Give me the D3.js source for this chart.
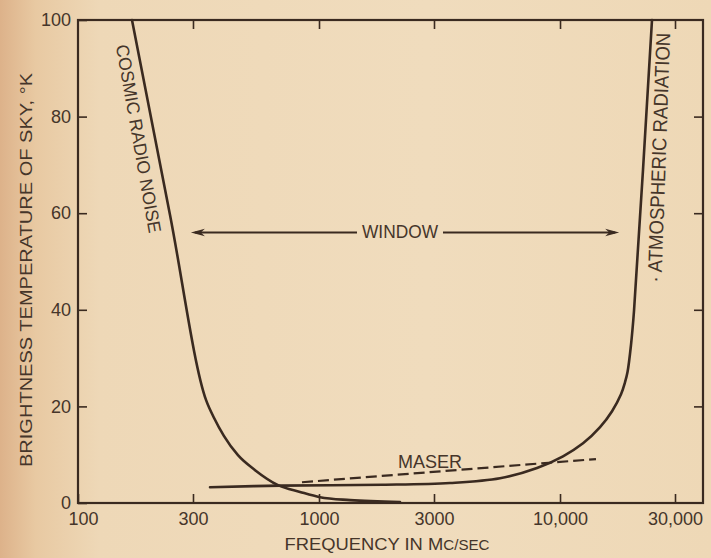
<!DOCTYPE html>
<html>
<head>
<meta charset="utf-8">
<script src="https://cdn.jsdelivr.net/npm/d3@7"></script>
<style>
  html, body { margin: 0; padding: 0; background: #eedabb; }
  svg { display: block; }
  text { font-family: "Liberation Sans", Arial, sans-serif; fill: #45352a; }
</style>
</head>
<body>
<svg id="chart" width="711" height="558"></svg>
<script>
// ---- data (frequency in Mc/sec, brightness temperature in °K) ----
const cosmicFreq = [167.5, 241, 340, 367, 403, 461, 543, 676, 834, 1010, 1345, 2168];
const cosmicTemp = [100, 59.6, 21.3, 17.6, 13.9, 9.9, 6.8, 3.7, 2.3, 1.2, 0.6, 0.2];

const atmFreq = [353, 689, 1844, 3497, 5637, 8028, 10290, 12460, 14660, 16440, 17910, 18610, 19060, 19700, 20280, 24080];
const atmTemp = [3.25, 3.6, 3.77, 4.14, 5.11, 7.25, 9.67, 12.35, 15.7, 19.0, 22.5, 25.0, 27.1, 32.7, 39.8, 100];

const maserFreq = [850, 14100];
const maserTemp = [4.3, 9.1];

const windowFreq = [294, 17600];
const windowTemp = 56;

const xTickValues = [100, 300, 1000, 3000, 10000, 30000];
const xTickLabels = ["100", "300", "1000", "3000", "10,000", "30,000"];
const yTickValues = [0, 20, 40, 60, 80, 100];
const yTickLabels = ["0", "20", "40", "60", "80", "100"];

(function draw() {
  const svg = d3.select("#chart");
  const W = 711, H = 558;
  const mL = 78, mR = 703, mT = 20, mB = 503;
  const ink = "#3a2a20";

  // paper background
  const defs = svg.append("defs");
  const grad = defs.append("linearGradient").attr("id", "paper").attr("x1", "0").attr("x2", "1").attr("y1", "0").attr("y2", "0");
  grad.append("stop").attr("offset", "0").attr("stop-color", "#ddb28a");
  grad.append("stop").attr("offset", "0.05").attr("stop-color", "#e8c9a2");
  grad.append("stop").attr("offset", "0.14").attr("stop-color", "#eed8b7");
  grad.append("stop").attr("offset", "0.6").attr("stop-color", "#f0dcbd");
  grad.append("stop").attr("offset", "1").attr("stop-color", "#eed8b6");
  svg.append("rect").attr("width", W).attr("height", H).attr("fill", "url(#paper)");

  const x = d3.scaleLog().domain([100, 39200]).range([mL, mR]);
  const y = d3.scaleLinear().domain([0, 100]).range([mB, mT]);

  const fmtX = d => xTickLabels[xTickValues.indexOf(d)];
  const fmtY = d => yTickLabels[yTickValues.indexOf(d)];

  function styleAxis(g) {
    g.select(".domain").remove();
    g.selectAll(".tick line").attr("stroke", ink).attr("stroke-width", 1.6);
    g.selectAll(".tick text").attr("font-size", 18).attr("fill", "#45352a")
      .attr("font-family", "'Liberation Sans', Arial, sans-serif");
  }

  svg.append("g").attr("transform", `translate(0,${mB})`)
    .call(d3.axisBottom(x).tickValues(xTickValues).tickFormat(fmtX).tickSizeInner(-9).tickSizeOuter(0).tickPadding(9))
    .call(styleAxis)
    .call(g => g.selectAll(".tick text").filter(d => d === 100).attr("dx", 5));

  svg.append("g").attr("transform", `translate(0,${mT})`)
    .call(d3.axisTop(x).tickValues(xTickValues.slice(1)).tickFormat("").tickSizeInner(-9).tickSizeOuter(0))
    .call(styleAxis);

  svg.append("g").attr("transform", `translate(${mL},0)`)
    .call(d3.axisLeft(y).tickValues(yTickValues).tickFormat(fmtY).tickSizeInner(-9).tickSizeOuter(0).tickPadding(7))
    .call(styleAxis);

  svg.append("g").attr("transform", `translate(${mR},0)`)
    .call(d3.axisRight(y).tickValues(yTickValues.slice(1, -1)).tickFormat("").tickSizeInner(-9).tickSizeOuter(0))
    .call(styleAxis);

  // frame
  svg.append("rect").attr("x", mL).attr("y", mT).attr("width", mR - mL).attr("height", mB - mT)
    .attr("fill", "none").attr("stroke", ink).attr("stroke-width", 2.2);

  // ---- curves ----
  const lineMono = d3.line().x(d => x(d[0])).y(d => y(d[1])).curve(d3.curveMonotoneX);
  const lineCR = d3.line().x(d => x(d[0])).y(d => y(d[1])).curve(d3.curveCatmullRom.alpha(0.5));

  svg.append("path").datum(d3.zip(cosmicFreq, cosmicTemp)).attr("d", lineMono)
    .attr("fill", "none").attr("stroke", ink).attr("stroke-width", 2.6).attr("stroke-linecap", "round");

  svg.append("path").datum(d3.zip(atmFreq, atmTemp)).attr("d", lineCR)
    .attr("fill", "none").attr("stroke", ink).attr("stroke-width", 2.6).attr("stroke-linecap", "round");

  svg.append("path").datum(d3.zip(maserFreq, maserTemp)).attr("d", d3.line().x(d => x(d[0])).y(d => y(d[1])))
    .attr("fill", "none").attr("stroke", ink).attr("stroke-width", 2.2).attr("stroke-dasharray", "11,5");

  // ---- window arrow ----
  const wy = y(windowTemp);
  const wx0 = x(windowFreq[0]), wx1 = x(windowFreq[1]);
  const wcx = x(2168);
  svg.append("text").attr("x", wcx).attr("y", y(54.9))
    .attr("text-anchor", "middle").attr("font-size", 18).attr("textLength", 76).attr("lengthAdjust", "spacingAndGlyphs")
    .text("WINDOW");
  const tx0 = wcx - 38 - 5, tx1 = wcx + 38 + 5;
  svg.append("line").attr("x1", wx0 + 4).attr("x2", tx0).attr("y1", wy).attr("y2", wy)
    .attr("stroke", ink).attr("stroke-width", 2.2);
  svg.append("line").attr("x1", tx1).attr("x2", wx1 - 4).attr("y1", wy).attr("y2", wy)
    .attr("stroke", ink).attr("stroke-width", 2.2);
  svg.append("path").attr("d", `M${wx0},${wy} L${wx0 + 14},${wy - 3.8} L${wx0 + 10},${wy} L${wx0 + 14},${wy + 3.8} Z`)
    .attr("fill", ink);
  svg.append("path").attr("d", `M${wx1},${wy} L${wx1 - 14},${wy - 3.8} L${wx1 - 10},${wy} L${wx1 - 14},${wy + 3.8} Z`)
    .attr("fill", ink);

  // ---- annotations ----
  svg.append("text")
    .attr("transform", `translate(${x(178)},${y(75.4)}) rotate(80)`)
    .attr("text-anchor", "middle").attr("dominant-baseline", "central")
    .attr("font-size", 18).attr("textLength", 191).attr("lengthAdjust", "spacingAndGlyphs")
    .text("COSMIC RADIO NOISE");

  svg.append("text")
    .attr("transform", `translate(${x(25700)},${y(71.5)}) rotate(-88)`)
    .attr("text-anchor", "middle").attr("dominant-baseline", "central")
    .attr("font-size", 20).attr("textLength", 250).attr("lengthAdjust", "spacingAndGlyphs")
    .text("· ATMOSPHERIC RADIATION");

  svg.append("text").attr("x", x(2890)).attr("y", y(7.25))
    .attr("text-anchor", "middle").attr("font-size", 18).attr("textLength", 64).attr("lengthAdjust", "spacingAndGlyphs")
    .text("MASER");

  // axis titles
  const xt = svg.append("text").attr("x", 387).attr("y", 550).attr("text-anchor", "middle")
    .attr("font-size", 17).attr("textLength", 205).attr("lengthAdjust", "spacingAndGlyphs");
  xt.append("tspan").text("FREQUENCY IN M");
  xt.append("tspan").attr("font-size", 14).text("C/SEC");

  svg.append("text").attr("transform", "translate(32,270) rotate(-90)")
    .attr("text-anchor", "middle").attr("font-size", 17).attr("textLength", 394).attr("lengthAdjust", "spacingAndGlyphs")
    .text("BRIGHTNESS TEMPERATURE OF SKY, °K");
})();
</script>
</body>
</html>
